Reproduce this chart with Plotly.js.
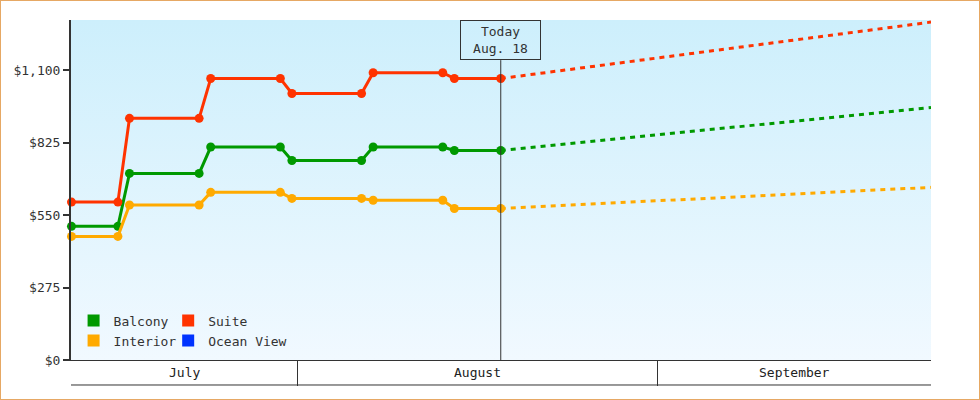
<!DOCTYPE html>
<html>
<head>
<meta charset="utf-8">
<script src="https://cdn.plot.ly/plotly-3.0.1.min.js"></script>
<style>
  body { margin: 0; background: #fff; }
  #wrap { position: relative; width: 980px; height: 400px; }
  #frame { position: absolute; left: 0; top: 0; width: 980px; height: 400px;
           box-sizing: border-box; border: 1px solid #e6a864; pointer-events: none; }
</style>
</head>
<body>
<div id="wrap">
  <div id="chart" style="width:980px;height:400px;"></div>
  <div id="frame"></div>
</div>
<script>
// price history (one point per price change)
var dates = ['2015-07-12 12:00', '2015-07-16 12:00', '2015-07-17 12:00', '2015-07-23 12:00',
             '2015-07-24 12:00', '2015-07-30 12:00', '2015-07-31 12:00', '2015-08-06 12:00',
             '2015-08-07 12:00', '2015-08-13 12:00', '2015-08-14 12:00', '2015-08-18 12:00'];
var balcony  = [507, 507, 708, 708, 808, 808, 757, 757, 808, 808, 795, 795];
var interior = [469, 469, 588, 588, 636, 636, 613, 613, 606, 606, 575, 575];
var suite    = [599, 599, 917, 917, 1068, 1068, 1011, 1011, 1090, 1090, 1068, 1068];
var oceanView = [];

// forecast from today to the end of the view
var fcDates = ['2015-08-18 12:00', '2015-09-24 14:00'];
var balconyFc  = [795, 958];
var interiorFc = [575, 655];
var suiteFc    = [1068, 1282];

var today = '2015-08-18 12:00';
var todayText = 'Today<br>Aug. 18';
var months = ['July', 'August', 'September'];
var monthStarts = ['2015-07-01', '2015-08-01', '2015-09-01', '2015-10-01'];
var xRange = ['2015-07-12 11:00', '2015-09-24 14:00'];

var names = ['Balcony', 'Interior', 'Suite', 'Ocean View'];
var colors = ['#009900', '#ffaa00', '#ff3300', '#0033ff'];

var FONT = 'DejaVu Sans Mono';
var INK = '#333';

function toMs(s) { return Date.parse(s.replace(' ', 'T') + 'Z'); }
function fromMs(ms) { return new Date(ms).toISOString().slice(0, 19).replace('T', ' '); }

var traces = [];
var hist = [balcony, interior, suite, oceanView];
var fc = [balconyFc, interiorFc, suiteFc, []];

for (var i = 0; i < names.length; i++) {
    traces.push({
        x: hist[i].length ? dates : [],
        y: hist[i],
        type: 'scatter', mode: 'lines+markers',
        line: {color: colors[i], width: 3},
        marker: {color: colors[i], size: 9},
        cliponaxis: false, showlegend: false
    });
    traces.push({
        x: fc[i].length ? fcDates : [],
        y: fc[i],
        type: 'scatter', mode: 'lines',
        line: {color: colors[i], width: 3, dash: '5px,5px'},
        showlegend: false
    });
}
// legend swatches (square keys, no bars drawn)
for (var j = 0; j < names.length; j++) {
    traces.push({
        x: [null], y: [null], type: 'bar', name: names[j],
        marker: {color: colors[j]},
        legend: j < 2 ? 'legend' : 'legend2'
    });
}

// month labels centred in the visible part of each month
var r0 = toMs(xRange[0]), r1 = toMs(xRange[1]);
var annotations = months.map(function (m, k) {
    var a = Math.max(toMs(monthStarts[k]), r0);
    var b = Math.min(toMs(monthStarts[k + 1]), r1);
    return {
        x: fromMs((a + b) / 2), xref: 'x', y: -0.037, yref: 'paper',
        yanchor: 'middle', text: m, showarrow: false,
        font: {family: FONT, size: 13, color: '#222'}
    };
});
annotations.push({
    x: today, xref: 'x', y: 1, yref: 'paper', yanchor: 'top',
    text: todayText, showarrow: false, width: 75, height: 34,
    bordercolor: INK, borderwidth: 1, borderpad: 2,
    font: {family: FONT, size: 13, color: INK}
});

var grad = "<svg xmlns='http://www.w3.org/2000/svg' width='10' height='100' preserveAspectRatio='none'>" +
    "<defs><linearGradient id='g' x1='0' y1='0' x2='0' y2='1'>" +
    "<stop offset='0' stop-color='#cdeffc'/><stop offset='1' stop-color='#f1f9ff'/>" +
    "</linearGradient></defs><rect width='10' height='100' fill='url(#g)'/></svg>";

var legendStyle = {
    bgcolor: 'rgba(0,0,0,0)', borderwidth: 0,
    font: {family: FONT, size: 13, color: INK},
    xanchor: 'left', yanchor: 'top', tracegroupgap: 0
};

var layout = {
    width: 980, height: 400,
    margin: {l: 71, r: 49, t: 20, b: 40},
    paper_bgcolor: '#fff', plot_bgcolor: 'rgba(0,0,0,0)',
    showlegend: true,
    legend: Object.assign({x: 0.003, y: 0.16}, legendStyle),
    legend2: Object.assign({x: 0.113, y: 0.16}, legendStyle),
    xaxis: {
        type: 'date', range: xRange, fixedrange: true,
        showgrid: false, zeroline: false,
        showline: true, linecolor: INK, linewidth: 1,
        ticks: 'outside', ticklen: 25, tickwidth: 1, tickcolor: INK,
        tickvals: monthStarts.slice(1, 3), showticklabels: false
    },
    yaxis: {
        range: [0, 1290], fixedrange: true,
        tick0: 0, dtick: 275, tickprefix: '$', tickformat: ',d',
        showgrid: false, zeroline: false,
        showline: true, linecolor: INK, linewidth: 2,
        ticks: 'outside', ticklen: 6, tickwidth: 2, tickcolor: INK,
        tickfont: {family: FONT, size: 13, color: INK}
    },
    images: [{
        source: 'data:image/svg+xml;charset=utf-8,' + encodeURIComponent(grad),
        xref: 'paper', yref: 'paper', x: 0, y: 1, sizex: 1, sizey: 1,
        xanchor: 'left', yanchor: 'top', sizing: 'stretch', layer: 'below'
    }],
    shapes: [
        {type: 'line', xref: 'x', yref: 'paper', x0: today, x1: today, y0: 0, y1: 0.882,
         line: {color: INK, width: 1}},
        {type: 'line', xref: 'paper', yref: 'paper', x0: 0, x1: 1, y0: -0.0735, y1: -0.0735,
         line: {color: INK, width: 1}}
    ],
    annotations: annotations
};

Plotly.newPlot('chart', traces, layout, {displayModeBar: false, staticPlot: true});
</script>
</body>
</html>
